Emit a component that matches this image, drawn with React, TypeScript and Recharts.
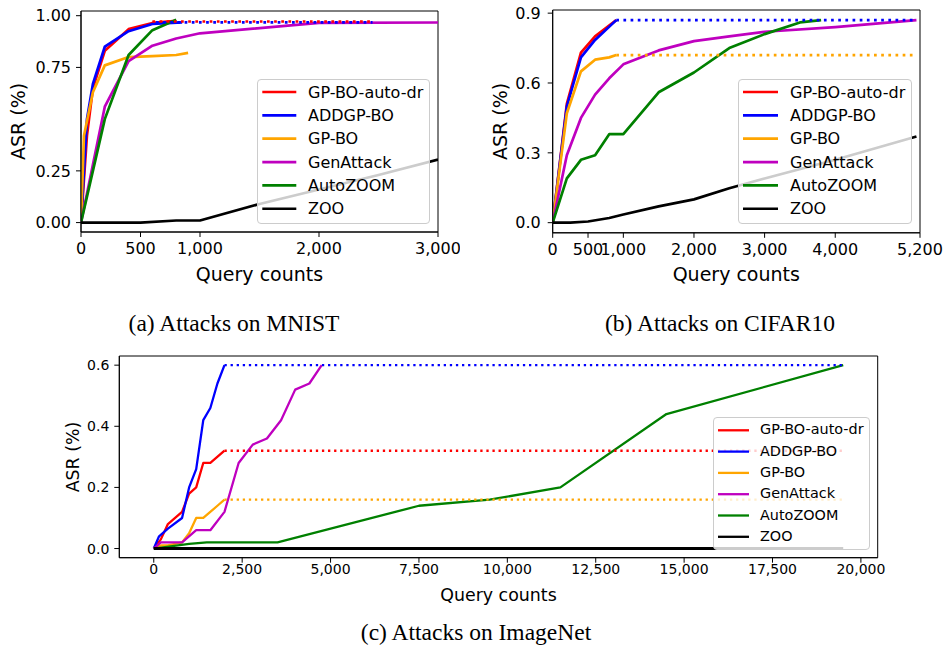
import React from 'react';
import { LineChart, Line, XAxis, YAxis, Legend, ReferenceArea } from 'recharts';

const SANS = '"DejaVu Sans", Verdana, sans-serif';
const SERIF = '"Liberation Serif", "Times New Roman", serif';

const METHODS = ['GP-BO-auto-dr', 'ADDGP-BO', 'GP-BO', 'GenAttack', 'AutoZOOM', 'ZOO'];
const COLORS = ['#ff0000', '#0000ff', '#ffa500', '#bf00bf', '#008000', '#000000'];

// (a) MNIST
const mnistAutoDrX = [0, 50, 100, 200, 400, 600, 800];
const mnistAutoDrY = [0, 0.42, 0.65, 0.83, 0.935, 0.965, 0.975];
const mnistAddX = [0, 50, 100, 200, 400, 600, 850];
const mnistAddY = [0, 0.5, 0.67, 0.85, 0.925, 0.96, 0.968];
const mnistGpX = [0, 25, 100, 200, 400, 600, 800, 900];
const mnistGpY = [0, 0.42, 0.63, 0.76, 0.8, 0.805, 0.81, 0.82];
const mnistGenX = [0, 200, 400, 600, 800, 1000, 2000, 3000];
const mnistGenY = [0, 0.56, 0.78, 0.855, 0.89, 0.915, 0.965, 0.967];
const mnistAutoZoomX = [0, 200, 400, 600, 800];
const mnistAutoZoomY = [0, 0.5, 0.81, 0.93, 0.98];
const mnistZooX = [0, 500, 800, 1000, 1500, 2000, 2500, 3000];
const mnistZooY = [0, 0, 0.01, 0.01, 0.09, 0.16, 0.23, 0.305];
const mnistPlateauX = [600, 2450];
const mnistAutoDrFinal = [0.972, 0.972];
const mnistAddFinal = [0.968, 0.968];
const mnistXTicks = [0, 500, 1000, 2000, 3000];
const mnistYTicks = [0, 0.25, 0.75, 1];

// (b) CIFAR10
const cifarAutoDrX = [0, 200, 400, 600, 900];
const cifarAutoDrY = [0, 0.51, 0.73, 0.8, 0.87];
const cifarAddX = [0, 200, 400, 600, 900];
const cifarAddY = [0, 0.5, 0.71, 0.785, 0.87];
const cifarGpX = [0, 200, 400, 600, 800, 900];
const cifarGpY = [0, 0.47, 0.65, 0.7, 0.71, 0.72];
const cifarGenX = [0, 200, 400, 600, 800, 1000, 1500, 2000, 2500, 3000, 4000, 5150];
const cifarGenY = [0, 0.29, 0.45, 0.55, 0.62, 0.68, 0.74, 0.78, 0.8, 0.82, 0.84, 0.87];
const cifarAutoZoomX = [0, 200, 400, 600, 800, 1000, 1500, 2000, 2500, 3000, 3500, 3800];
const cifarAutoZoomY = [0, 0.19, 0.27, 0.29, 0.38, 0.38, 0.56, 0.645, 0.75, 0.81, 0.86, 0.87];
const cifarZooX = [0, 250, 500, 800, 1000, 1500, 2000, 2500, 3000, 4000, 5150];
const cifarZooY = [0, 0, 0.005, 0.02, 0.035, 0.07, 0.1, 0.148, 0.19, 0.27, 0.37];
const cifarPlateauX = [900, 5150];
const cifarAddFinal = [0.87, 0.87];
const cifarGpFinal = [0.72, 0.72];
const cifarXTicks = [0, 500, 1000, 2000, 3000, 4000, 5200];
const cifarYTicks = [0, 0.3, 0.6, 0.9];

// (c) ImageNet
const imgAutoDrX = [0, 200, 400, 800, 1000, 1200, 1400, 1600, 2000];
const imgAutoDrY = [0, 0.03, 0.08, 0.12, 0.18, 0.2, 0.28, 0.28, 0.32];
const imgAddX = [0, 150, 400, 800, 1000, 1200, 1400, 1600, 1800, 2000];
const imgAddY = [0, 0.04, 0.065, 0.1, 0.2, 0.26, 0.42, 0.46, 0.54, 0.6];
const imgGpX = [0, 200, 400, 800, 1000, 1200, 1400, 1800, 2000];
const imgGpY = [0, 0.01, 0.01, 0.02, 0.05, 0.1, 0.1, 0.14, 0.16];
const imgGenX = [0, 200, 800, 1200, 1600, 2000, 2400, 2800, 3200, 3600, 4000, 4400, 4750];
const imgGenY = [0, 0.02, 0.02, 0.06, 0.06, 0.12, 0.28, 0.34, 0.36, 0.42, 0.52, 0.54, 0.6];
const imgAutoZoomX = [0, 1000, 1500, 3500, 7500, 9500, 11500, 14500, 19500];
const imgAutoZoomY = [0, 0.015, 0.02, 0.02, 0.14, 0.16, 0.2, 0.44, 0.6];
const imgZooX = [0, 19500];
const imgZooY = [0, 0];
const imgPlateauX = [2000, 19500];
const imgAutoDrFinal = [0.32, 0.32];
const imgAddFinal = [0.6, 0.6];
const imgGpFinal = [0.16, 0.16];
const imgXTicks = [0, 2500, 5000, 7500, 10000, 12500, 15000, 17500, 20000];
const imgYTicks = [0, 0.2, 0.4, 0.6];

type Pt = { x: number; y: number };
type Series = { key: string; color: string; data: Pt[]; dotted?: boolean; shift?: boolean; width?: number };

const pts = (xs: number[], ys: number[]): Pt[] => xs.map((x, i) => ({ x, y: ys[i] }));

const solid = (sets: [number[], number[]][]): Series[] =>
  sets.map(([xs, ys], i) => ({ key: METHODS[i], color: COLORS[i], data: pts(xs, ys) }));

const AxisTitle = (props: any) => {
  const { px, py, size, vertical, text } = props;
  return (
    <text
      x={px}
      y={py}
      fontSize={size}
      fontFamily={SANS}
      fill="#000"
      textAnchor="middle"
      dominantBaseline={vertical ? 'central' : 'alphabetic'}
      transform={vertical ? `rotate(-90 ${px} ${py})` : undefined}
    >
      {text}
    </text>
  );
};

interface LegendCfg {
  left: number;
  top: number;
  width: number;
  height: number;
  firstRow: number;
  rowH: number;
  sampleLeft: number;
  sampleLen: number;
  textLeft: number;
  fontSize: number;
}

const LegendBox = ({ cfg, lw }: { cfg: LegendCfg; lw: number }) => (
  <div
    style={{
      position: 'relative',
      width: cfg.width,
      height: cfg.height,
      boxSizing: 'border-box',
      background: 'rgba(255,255,255,0.8)',
      border: '1px solid #cccccc',
      borderRadius: 4,
      fontFamily: SANS,
    }}
  >
    <svg width={cfg.width} height={cfg.height} style={{ position: 'absolute', left: -1, top: -1 }}>
      {METHODS.map((name, i) => {
        const cy = cfg.firstRow + i * cfg.rowH;
        return (
          <line
            key={name}
            x1={cfg.sampleLeft}
            x2={cfg.sampleLeft + cfg.sampleLen}
            y1={cy}
            y2={cy}
            stroke={COLORS[i]}
            strokeWidth={lw}
          />
        );
      })}
    </svg>
    {METHODS.map((name, i) => {
      const cy = cfg.firstRow + i * cfg.rowH;
      return (
        <div
          key={name}
          style={{
            position: 'absolute',
            left: cfg.textLeft - 1,
            top: cy - cfg.rowH / 2 - 1,
            height: cfg.rowH,
            lineHeight: `${cfg.rowH}px`,
            fontSize: cfg.fontSize,
            color: '#000',
            whiteSpace: 'nowrap',
          }}
        >
          {name}
        </div>
      );
    })}
  </div>
);

interface PanelProps {
  left: number;
  top: number;
  width: number;
  height: number;
  mTop: number;
  mRight: number;
  yAxisWidth: number;
  xAxisHeight: number;
  xDomain: [number, number];
  yDomain: [number, number];
  xTicks: number[];
  yTicks: number[];
  yDigits: number;
  tickFont: number;
  xTickMargin: number;
  yTickMargin: number;
  titleFont: number;
  xTitle: [number, number];
  yTitle: [number, number];
  lw: number;
  series: Series[];
  legend: LegendCfg;
}

const Panel = (p: PanelProps) => {
  const tick = { fill: '#000', fontSize: p.tickFont, fontFamily: SANS };
  const dash = `${p.lw} ${(p.lw * 1.65).toFixed(2)}`;
  return (
    <div style={{ position: 'absolute', left: p.left, top: p.top }}>
      <LineChart
        width={p.width}
        height={p.height}
        margin={{ top: p.mTop, right: p.mRight, bottom: 0, left: 0 }}
      >
        <XAxis
          type="number"
          dataKey="x"
          domain={p.xDomain}
          allowDataOverflow
          ticks={p.xTicks}
          interval={0}
          tickFormatter={(v: number) => v.toLocaleString('en-US')}
          tick={tick}
          tickSize={5}
          tickMargin={p.xTickMargin}
          height={p.xAxisHeight}
          stroke="#000"
          tickLine={{ stroke: '#000' }}
          label={<AxisTitle px={p.xTitle[0]} py={p.xTitle[1]} size={p.titleFont} text="Query counts" />}
        />
        <YAxis
          type="number"
          domain={p.yDomain}
          allowDataOverflow
          ticks={p.yTicks}
          interval={0}
          tickFormatter={(v: number) => v.toFixed(p.yDigits)}
          tick={tick}
          tickSize={5}
          tickMargin={p.yTickMargin}
          width={p.yAxisWidth}
          stroke="#000"
          tickLine={{ stroke: '#000' }}
          label={<AxisTitle px={p.yTitle[0]} py={p.yTitle[1]} size={p.titleFont} vertical text="ASR (%)" />}
        />
        <ReferenceArea
          x1={p.xDomain[0]}
          x2={p.xDomain[1]}
          y1={p.yDomain[0]}
          y2={p.yDomain[1]}
          fill="none"
          fillOpacity={0}
          stroke="#000"
          strokeWidth={1}
          ifOverflow="visible"
        />
        {p.series.map((s, i) => (
          <Line
            key={`${s.key}-${i}`}
            data={s.data}
            dataKey="y"
            type="linear"
            stroke={s.color}
            strokeWidth={s.width ?? p.lw}
            strokeDasharray={s.dotted ? dash : undefined}
            strokeDashoffset={s.shift ? (p.lw * 2.65) / 2 : 0}
            strokeLinejoin="round"
            dot={false}
            activeDot={false}
            legendType="none"
            isAnimationActive={false}
          />
        ))}
        <Legend
          layout="vertical"
          align="center"
          verticalAlign="middle"
          wrapperStyle={{ left: p.legend.left, top: p.legend.top, width: p.legend.width, height: p.legend.height }}
          content={() => <LegendBox cfg={p.legend} lw={p.lw} />}
        />
      </LineChart>
    </div>
  );
};

const mnistSeries: Series[] = [
  ...solid([
    [mnistAutoDrX, mnistAutoDrY],
    [mnistAddX, mnistAddY],
    [mnistGpX, mnistGpY],
    [mnistGenX, mnistGenY],
    [mnistAutoZoomX, mnistAutoZoomY],
    [mnistZooX, mnistZooY],
  ]),
  { key: 'auto-dr-final', color: COLORS[0], data: pts(mnistPlateauX, mnistAutoDrFinal), dotted: true },
  { key: 'add-final', color: COLORS[1], data: pts(mnistPlateauX, mnistAddFinal), dotted: true, shift: true },
];

const cifarSeries: Series[] = [
  ...solid([
    [cifarAutoDrX, cifarAutoDrY],
    [cifarAddX, cifarAddY],
    [cifarGpX, cifarGpY],
    [cifarGenX, cifarGenY],
    [cifarAutoZoomX, cifarAutoZoomY],
    [cifarZooX, cifarZooY],
  ]),
  { key: 'add-final', color: COLORS[1], data: pts(cifarPlateauX, cifarAddFinal), dotted: true },
  { key: 'gp-final', color: COLORS[2], data: pts(cifarPlateauX, cifarGpFinal), dotted: true },
];

const imgSolid = solid([
  [imgAutoDrX, imgAutoDrY],
  [imgAddX, imgAddY],
  [imgGpX, imgGpY],
  [imgGenX, imgGenY],
  [imgAutoZoomX, imgAutoZoomY],
  [imgZooX, imgZooY],
]);
imgSolid[5].width = 3;

const imgSeries: Series[] = [
  ...imgSolid,
  { key: 'add-final', color: COLORS[1], data: pts(imgPlateauX, imgAddFinal), dotted: true },
  { key: 'auto-dr-final', color: COLORS[0], data: pts(imgPlateauX, imgAutoDrFinal), dotted: true },
  { key: 'gp-final', color: COLORS[2], data: pts(imgPlateauX, imgGpFinal), dotted: true },
];

const CAPTIONS = ['(a) Attacks on MNIST', '(b) Attacks on CIFAR10', '(c) Attacks on ImageNet'];

export default function App() {
  return (
    <div style={{ position: 'absolute', left: 0, top: 0, width: 945, height: 653, background: '#fff', overflow: 'hidden' }}>
      <svg width={945} height={653} style={{ position: 'absolute', left: 0, top: 0 }}>
        <text x={234} y={331} textAnchor="middle" fontFamily={SERIF} fontSize={23.5} fill="#000">{CAPTIONS[0]}</text>
        <text x={720} y={331} textAnchor="middle" fontFamily={SERIF} fontSize={23.5} fill="#000">{CAPTIONS[1]}</text>
        <text x={476} y={640} textAnchor="middle" fontFamily={SERIF} fontSize={23.5} fill="#000">{CAPTIONS[2]}</text>
      </svg>

      <Panel
        left={0}
        top={0}
        width={460}
        height={290}
        mTop={11}
        mRight={22}
        yAxisWidth={81}
        xAxisHeight={58}
        xDomain={[0, 3000]}
        yDomain={[-0.0455, 1.0227]}
        xTicks={mnistXTicks}
        yTicks={mnistYTicks}
        yDigits={2}
        tickFont={16}
        xTickMargin={6}
        yTickMargin={5}
        titleFont={19}
        xTitle={[259.5, 281]}
        yTitle={[18.3, 121.5]}
        lw={2.7}
        series={mnistSeries}
        legend={{ left: 256.7, top: 79.3, width: 173.3, height: 144.7, firstRow: 13, rowH: 23.35, sampleLeft: 5.3, sampleLen: 34, textLeft: 51.3, fontSize: 16 }}
      />

      <Panel
        left={470}
        top={0}
        width={475}
        height={290}
        mTop={10}
        mRight={25}
        yAxisWidth={82.7}
        xAxisHeight={57.2}
        xDomain={[0, 5200]}
        yDomain={[-0.0435, 0.9135]}
        xTicks={cifarXTicks}
        yTicks={cifarYTicks}
        yDigits={1}
        tickFont={16}
        xTickMargin={6}
        yTickMargin={7}
        titleFont={19}
        xTitle={[266.3, 281]}
        yTitle={[30, 121.4]}
        lw={2.7}
        series={cifarSeries}
        legend={{ left: 268.3, top: 79.3, width: 173.4, height: 144.7, firstRow: 13, rowH: 23.35, sampleLeft: 5, sampleLen: 35, textLeft: 51.7, fontSize: 16 }}
      />

      <Panel
        left={40}
        top={340}
        width={860}
        height={270}
        mTop={16}
        mRight={22.3}
        yAxisWidth={79.3}
        xAxisHeight={52.3}
        xDomain={[-975, 20475]}
        yDomain={[-0.03, 0.63]}
        xTicks={imgXTicks}
        yTicks={imgYTicks}
        yDigits={1}
        tickFont={14}
        xTickMargin={1}
        yTickMargin={5}
        titleFont={17.4}
        xTitle={[458.5, 260.5]}
        yTitle={[33.3, 117]}
        lw={2.3}
        series={imgSeries}
        legend={{ left: 673.3, top: 76.7, width: 156.7, height: 133.3, firstRow: 13.3, rowH: 21.3, sampleLeft: 5, sampleLen: 31, textLeft: 46.7, fontSize: 14.4 }}
      />
    </div>
  );
}
